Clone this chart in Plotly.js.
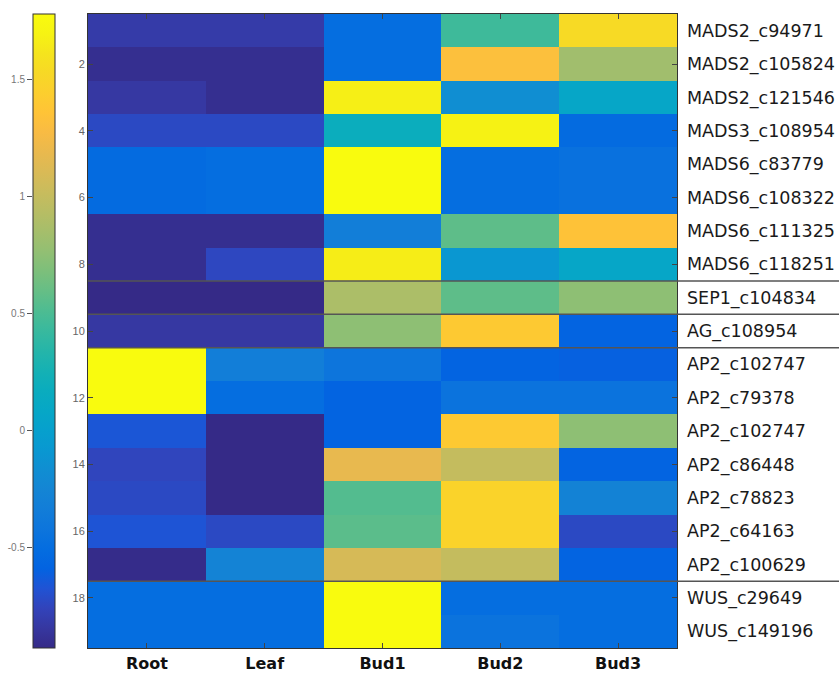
<!DOCTYPE html>
<html><head><meta charset="utf-8">
<script src="https://cdn.plot.ly/plotly-3.0.1.min.js"></script>
<style>html,body{margin:0;padding:0;background:#fff}#chart{width:839px;height:675px}</style>
</head><body><div id="chart"></div>
<script>
const samples = ['Root','Leaf','Bud1','Bud2','Bud3'];
const genes = ['MADS2_c94971','MADS2_c105824','MADS2_c121546','MADS3_c108954','MADS6_c83779','MADS6_c108322','MADS6_c111325','MADS6_c118251','SEP1_c104834','AG_c108954','AP2_c102747','AP2_c79378','AP2_c102747','AP2_c86448','AP2_c78823','AP2_c64163','AP2_c100629','WUS_c29649','WUS_c149196'];
const root = [-0.82,-0.90,-0.84,-0.73,-0.52,-0.52,-0.90,-0.90,-0.93,-0.84, 1.78, 1.78,-0.66,-0.75,-0.73,-0.67,-0.92,-0.50,-0.50];
const leaf = [-0.82,-0.90,-0.90,-0.73,-0.50,-0.50,-0.90,-0.74,-0.93,-0.84,-0.33,-0.50,-0.93,-0.93,-0.93,-0.73,-0.27,-0.50,-0.50];
const bud1 = [-0.50,-0.50, 1.67, 0.18, 1.78, 1.78,-0.33, 1.66, 0.88, 0.75,-0.42,-0.58,-0.58, 1.18, 0.53, 0.56, 1.09, 1.78, 1.78];
const bud2 = [ 0.45, 1.32,-0.17, 1.69,-0.50,-0.50, 0.57,-0.09, 0.57, 1.40,-0.58,-0.44, 1.40, 1.00, 1.48, 1.48, 1.00,-0.50,-0.44];
const bud3 = [ 1.54, 0.83, 0.07,-0.52,-0.46,-0.46, 1.35, 0.07, 0.75,-0.58,-0.60,-0.44, 0.75,-0.58,-0.28,-0.73,-0.58,-0.50,-0.50];
const zMin = -0.93, zMax = 1.78;
const cbTicks = [-0.5, 0, 0.5, 1, 1.5];
const rowTicks = [2,4,6,8,10,12,14,16,18];

const parula = [[0.2081,0.1663,0.5292],[0.2122,0.2138,0.6270],[0.1959,0.2645,0.7279],[0.1253,0.3242,0.8303],[0.0117,0.3875,0.8820],[0.0165,0.4266,0.8786],[0.0498,0.4586,0.8641],[0.0723,0.4887,0.8467],[0.0793,0.5200,0.8312],[0.0641,0.5570,0.8240],[0.0343,0.5966,0.8199],[0.0239,0.6287,0.8038],[0.0228,0.6535,0.7768],[0.0384,0.6743,0.7436],[0.0843,0.6928,0.7062],[0.1453,0.7098,0.6646],[0.2178,0.7250,0.6193],[0.3022,0.7376,0.5712],[0.3953,0.7459,0.5244],[0.4871,0.7491,0.4840],[0.5709,0.7485,0.4494],[0.6473,0.7456,0.4188],[0.7184,0.7411,0.3905],[0.7858,0.7356,0.3633],[0.8507,0.7299,0.3360],[0.9140,0.7258,0.3063],[0.9739,0.7314,0.2666],[0.9990,0.7653,0.2164],[0.9880,0.8066,0.1794],[0.9697,0.8481,0.1475],[0.9589,0.8949,0.1132],[0.9661,0.9514,0.0755],[0.9763,0.9831,0.0538]];
const colorscale = parula.map((c,i)=>[i/(parula.length-1), 'rgb('+c.map(v=>Math.round(v*255)).join(',')+')']);

const rows = genes.map((g,i)=>i+1);
const cols = [root, leaf, bud1, bud2, bud3];
const z = rows.map((r,i)=>cols.map(c=>c[i]));

// group separators from gene family prefixes
const fam = genes.map(g=>g.split('_')[0].replace(/\d+$/,''));
const shapes = [];
for (let i=1;i<fam.length;i++){
  if (fam[i]!==fam[i-1]) shapes.push({type:'line', xref:'x domain', yref:'y', x0:0, x1:1.276, y0:i+0.5, y1:i+0.5, line:{color:'#555', width:1.5}, layer:'above'});
}

const W = 839;
const data = [
  {type:'heatmap', x:samples, y:rows, z:z, zmin:zMin, zmax:zMax, colorscale:colorscale, xaxis:'x', yaxis:'y',
   colorbar:{x:33/W, xanchor:'left', xref:'paper', y:0.5, yanchor:'middle', len:1, lenmode:'fraction', thickness:22,
     xpad:0, ypad:0, outlinewidth:1, outlinecolor:'#333', showticklabels:false, ticks:''}},
  {type:'scatter', x:[], y:[], xaxis:'x', yaxis:'y3', showlegend:false},
  {type:'scatter', x:[], y:[], xaxis:'x2', yaxis:'y2', showlegend:false}
];
const layout = {
  width:839, height:675,
  margin:{l:0, r:0, t:14, b:27},
  paper_bgcolor:'#fff', plot_bgcolor:'#fff',
  showlegend:false,
  font:{family:'Liberation Sans, Arial, sans-serif', color:'#333'},
  xaxis:{domain:[88/W, 677/W], type:'category', ticks:'inside', ticklen:5, tickcolor:'#444', mirror:'ticks', showline:true, linecolor:'#333', linewidth:1,
    tickfont:{family:'DejaVu Sans', size:16, color:'#111', weight:'bold'}, ticklabelstandoff:1, automargin:false, showgrid:false},
  yaxis:{domain:[0,1], range:[19.5,0.5], tickmode:'array', tickvals:rowTicks, ticktext:rowTicks.map(String), ticks:'inside', ticklen:5, tickcolor:'#444',
    mirror:'ticks', showline:true, linecolor:'#333', linewidth:1, showgrid:false, zeroline:false,
    tickfont:{family:'Liberation Sans', size:11, color:'#666'}, automargin:false},
  yaxis3:{overlaying:'y', side:'right', anchor:'x', range:[19.5,0.5], tickmode:'array', tickvals:rows, ticktext:genes, ticks:'', showgrid:false, zeroline:false, showline:false,
    tickfont:{family:'DejaVu Sans', size:17.5, color:'#1a1a1a'}, ticklabelstandoff:9, automargin:false},
  xaxis2:{domain:[33/W, 55/W], anchor:'y2', visible:false, range:[0,1]},
  yaxis2:{domain:[0,1], anchor:'x2', side:'left', range:[zMin, zMax], tickmode:'array', tickvals:cbTicks, ticktext:cbTicks.map(String),
    ticks:'outside', ticklen:5, tickcolor:'#555', showline:false, showgrid:false, zeroline:false,
    tickfont:{family:'Liberation Sans', size:10, color:'#777'}, automargin:false},
  shapes:shapes
};
Plotly.newPlot('chart', data, layout, {displayModeBar:false, staticPlot:true});
</script></body></html>
